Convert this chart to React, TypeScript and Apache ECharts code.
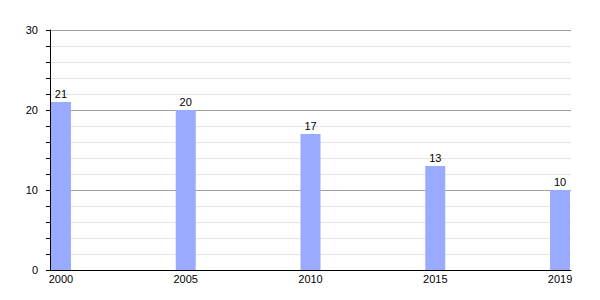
import React, { useEffect, useRef } from "react";
import * as echarts from "echarts";

const years = ["2000", "2005", "2010", "2015", "2019"];
const values = [21, 20, 17, 13, 10];
const yLabels = [0, 10, 20, 30];

export default function App() {
  const ref = useRef<HTMLDivElement>(null);
  useEffect(() => {
    if (!ref.current) return;
    const chart = echarts.init(ref.current, undefined, { renderer: "svg" });
    const font = "Liberation Sans, Arial, sans-serif";
    chart.setOption({
      animation: false,
      grid: { left: 50, right: 29, top: 30, bottom: 30, containLabel: false },
      xAxis: {
        type: "value",
        min: -0.088,
        max: 4.088,
        axisLine: { show: true, onZero: false, lineStyle: { color: "#000", width: 1 } },
        axisTick: { show: false },
        splitLine: { show: false },
        axisLabel: {
          customValues: years.map((_, i) => i),
          formatter: (v: number) => years[Math.round(v)] ?? "",
          color: "#000",
          fontSize: 11,
          fontFamily: font,
          margin: 3,
        },
      },
      yAxis: {
        type: "value",
        min: 0,
        max: 30,
        interval: 2,
        axisLine: { show: true, onZero: false, lineStyle: { color: "#000", width: 1 } },
        axisTick: { show: true, length: 4, lineStyle: { color: "#000" } },
        axisLabel: {
          formatter: (v: number) => (yLabels.includes(v) ? String(v) : ""),
          color: "#000",
          fontSize: 11,
          fontFamily: font,
          margin: 12,
        },
        splitLine: {
          show: true,
          lineStyle: {
            color: ["#a0a0a0", "#e4e4e4", "#e4e4e4", "#e4e4e4", "#e4e4e4"],
            width: 1,
          },
        },
      },
      series: [
        {
          type: "bar",
          data: values.map((v, i) => [i, v]),
          barWidth: 20,
          itemStyle: { color: "#9aabff" },
          label: {
            show: true,
            position: "top",
            distance: 3,
            color: "#000",
            fontSize: 11,
            fontFamily: font,
            formatter: (p: any) => String(p.value[1]),
          },
        },
      ],
    });
    return () => chart.dispose();
  }, []);
  return (
    <div
      ref={ref}
      style={{ position: "absolute", left: 0, top: 0, width: 600, height: 300 }}
    />
  );
}
